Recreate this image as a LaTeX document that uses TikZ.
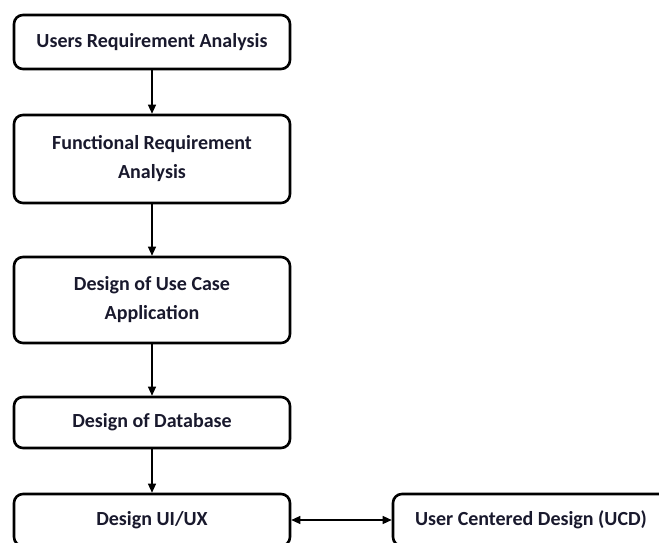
\documentclass[tikz,border=0pt]{standalone}
\usepackage{fontspec}
\setmainfont{Carlito}
\usetikzlibrary{arrows.meta}
\definecolor{txt}{RGB}{25,25,45}
\begin{document}
\begin{tikzpicture}[x=1pt,y=-1pt,
  stepbox/.style={draw=black, line width=2.6pt, rounded corners=9pt, fill=white,
    minimum width=276pt, inner sep=0pt, align=center, text=txt,
    font=\fontsize{20}{29}\selectfont\bfseries},
  flow/.style={line width=1.2pt, -{Triangle[length=9pt,width=8pt]}},
  both/.style={line width=1.2pt, {Triangle[length=9pt,width=8pt]}-{Triangle[length=9pt,width=8pt]}}]
\useasboundingbox (0,0) rectangle (659,543);
\clip (0,0) rectangle (659,543);
\fill[white] (0,0) rectangle (659,543);
\node[stepbox, minimum height=54pt] (b1) at (152,42) {Users Requirement Analysis};
\node[stepbox, minimum height=88pt] (b2) at (152,159) {Functional Requirement\\Analysis};
\node[stepbox, minimum height=86pt] (b3) at (152,300) {Design of Use Case\\Application};
\node[stepbox, minimum height=51pt] (b4) at (152,422.5) {Design of Database};
\node[stepbox, minimum height=52pt] (b5) at (152,520) {Design UI/UX};
\node[stepbox, minimum height=52pt] (b6) at (531,520) {User Centered Design (UCD)};
\draw[flow] (b1) -- (b2);
\draw[flow] (b2) -- (b3);
\draw[flow] (b3) -- (b4);
\draw[flow] (b4) -- (b5);
\draw[both] (b5) -- (b6);
\end{tikzpicture}
\end{document}
